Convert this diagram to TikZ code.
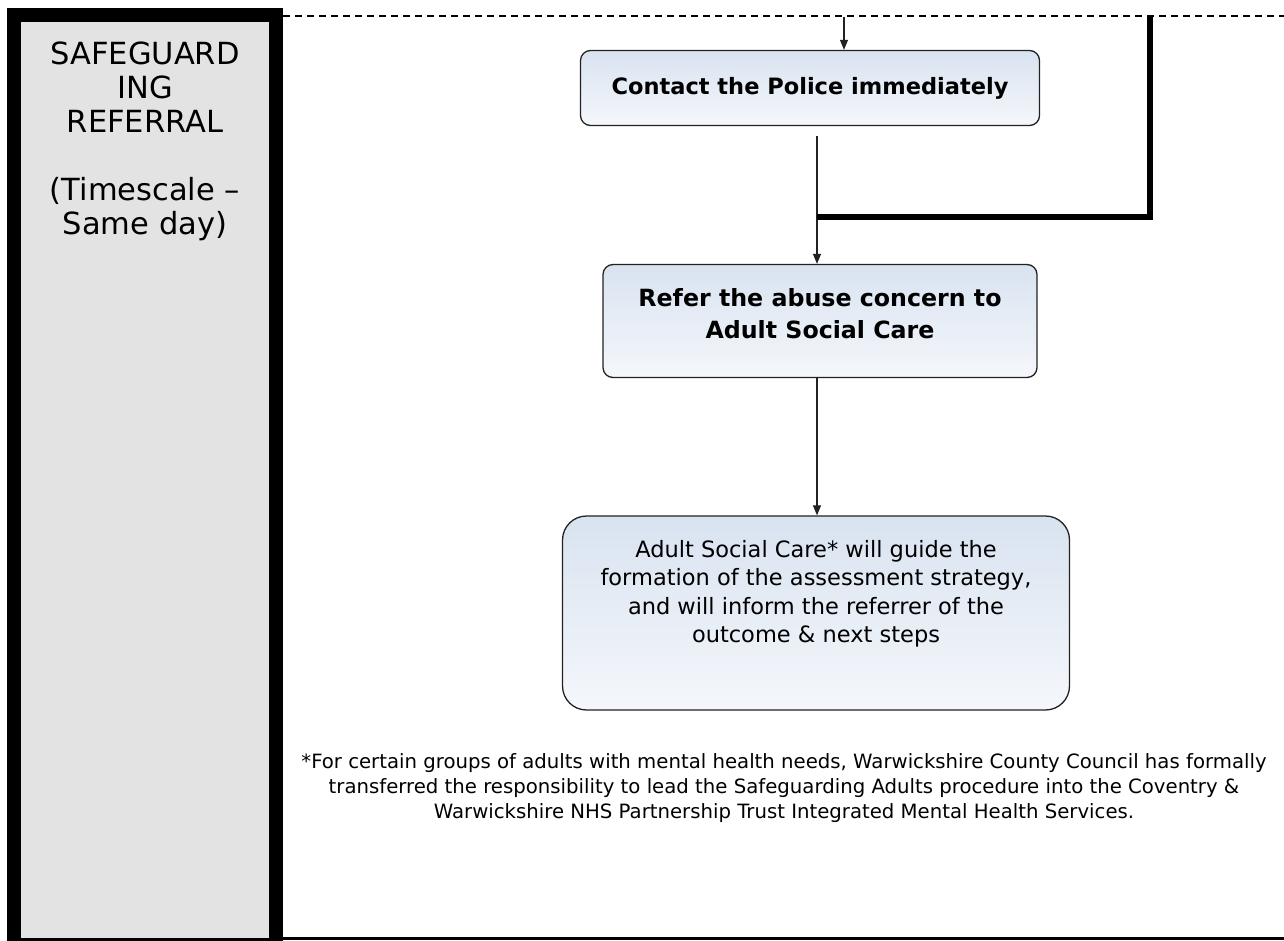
\documentclass[tikz,border=0pt]{standalone}
\usepackage{fontspec}
\setmainfont{DejaVu Sans}
\usepackage{xcolor}
\usepackage{tikz}
\usetikzlibrary{arrows.meta,positioning,calc}
\definecolor{PanelGray}{HTML}{E3E3E3}
\definecolor{BoxTop}{HTML}{D8E3F0}
\definecolor{BoxBottom}{HTML}{F5F7FB}
\definecolor{EdgeDark}{HTML}{222222}
\tikzset{
  flowbox/.style={draw=EdgeDark,line width=1.3pt,rounded corners=10pt,
    top color=BoxTop,bottom color=BoxBottom,align=center,inner sep=0pt},
  boldtext/.style={align=center,font=\fontsize{22.5}{32}\selectfont\bfseries},
  flowline/.style={EdgeDark,line width=1.1pt},
}

\begin{document}
\begin{tikzpicture}[x=1pt,y=-1pt,>={Triangle[length=10pt,width=8pt]}]
  \useasboundingbox (0,0) rectangle (1284,940);

  % Left column with the stage name.
  \draw[line width=14pt,fill=PanelGray] (14,15) rectangle (276,945);
  \node[align=center,font=\fontsize{30.5}{34}\selectfont] (stage) at (145,141)
    {SAFEGUARD\\ING\\REFERRAL\\[34pt](Timescale –\\Same day)};

  % Frame of the right column.
  \draw[line width=2.5pt,dash pattern=on 7pt off 5pt] (283,16) -- (1284,16);
  \draw[line width=3pt] (283,938) -- (1284,938);

  \node[flowbox,minimum width=459pt,minimum height=75pt,boldtext]
    (police) at (810,88) {Contact the Police immediately};
  \node[flowbox,minimum width=434pt,minimum height=113pt]
    (refer) at (820,321) {};
  \node[boldtext,font=\fontsize{23.7}{32}\selectfont\bfseries] (refertext)
    at ($(refer.center)+(0,-7)$)
    {Refer the abuse concern to\\Adult Social Care};
  \node[flowbox,minimum width=507pt,minimum height=194pt,rounded corners=24pt]
    (care) at (816,613) {};
  \node[align=center,font=\fontsize{22.5}{28.5}\selectfont] (caretext)
    at ($(care.center)+(0,-19)$)
    {Adult Social Care* will guide the\\formation of the assessment strategy,\\
     and will inform the referrer of the\\outcome \& next steps};

  \coordinate (entry) at (844,17);
  \coordinate (join) at (817,217);
  \coordinate (corner) at (1150,217);

  \draw[->,flowline] (entry) -- (entry |- police.north);
  \draw[->,flowline,shorten <=10pt] (join |- police.south) -- (join |- refer.north);
  \draw[line width=6pt] (join) -- (corner) -- (corner |- entry);
  \draw[->,flowline] (join |- refer.south) -- (join |- care.north);

  \node[align=center,font=\fontsize{19.7}{25}\selectfont] (note) at (784,788)
    {*For certain groups of adults with mental health needs, Warwickshire County Council has formally\\
     transferred the responsibility to lead the Safeguarding Adults procedure into the Coventry \&\\
     Warwickshire NHS Partnership Trust Integrated Mental Health Services.};
\end{tikzpicture}
\end{document}
